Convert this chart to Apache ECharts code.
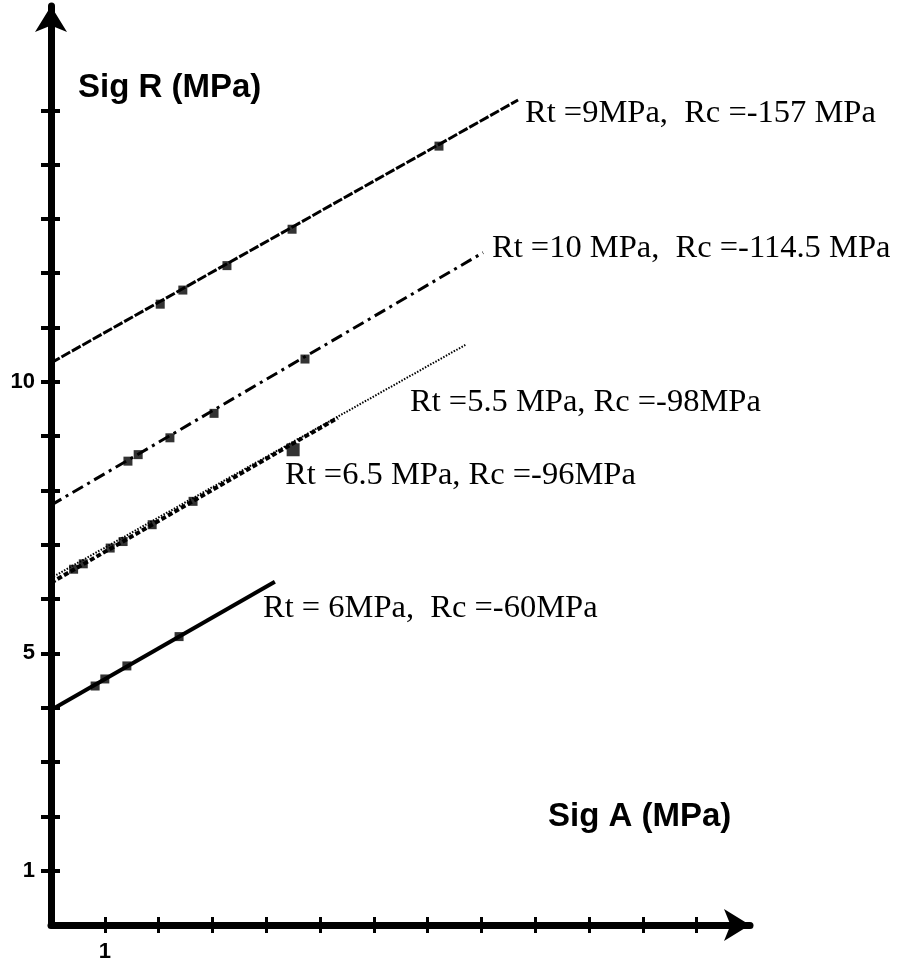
<!DOCTYPE html>
<html>
<head>
<meta charset="utf-8">
<script src="https://cdn.jsdelivr.net/npm/echarts@6/dist/echarts.min.js"></script>
<style>html,body{margin:0;padding:0;background:#fff}#c{width:907px;height:963px}</style>
</head>
<body>
<div id="c"></div>
<script>
// ---- data (MPa) ----
const xTicks = [1,2,3,4,5,6,7,8,9,10,11,12];
const yTicks = [1,2,3,4,5,6,7,8,9,10,11,12,13,14,15];
const xLabels = [1];
const yLabels = [1,5,10];

const line9 = [[0,10.35],[8.68,15.19]];          // Rt=9, Rc=-157
const pts9  = [[2.03,11.43],[2.45,11.69],[3.27,12.14],[4.48,12.81],[7.21,14.34]];

const line10 = [[0,7.73],[8.03,12.38]];          // Rt=10, Rc=-114.5
const pts10  = [[1.43,8.54],[1.62,8.66],[2.21,8.97],[3.03,9.42],[4.72,10.42]];

const line55 = [[0,6.39],[7.70,10.68]];          // Rt=5.5, Rc=-98
const line65 = [[0,6.30],[5.33,9.34]];           // Rt=6.5, Rc=-96
const pts65  = [[0.42,6.55],[0.6,6.65],[1.10,6.94],[1.34,7.06],[1.88,7.37],[2.64,7.80]];
const ptsBig = [[4.50,8.75]];

const line6 = [[0,3.96],[4.16,6.32]];            // Rt=6, Rc=-60
const pts6  = [[0.82,4.40],[1.0,4.53],[1.41,4.77],[2.38,5.31]];

const labels = [
  'Rt =9MPa,  Rc =-157 MPa',
  'Rt =10 MPa,  Rc =-114.5 MPa',
  'Rt =5.5 MPa, Rc =-98MPa',
  'Rt =6.5 MPa, Rc =-96MPa',
  'Rt = 6MPa,  Rc =-60MPa'
];
const xName = 'Sig A (MPa)';
const yName = 'Sig R (MPa)';

// ---- chart ----
const chart = echarts.init(document.getElementById('c'), null, {renderer:'canvas'});
const serif = "32.5px 'Liberation Serif', 'Times New Roman', serif";
const boldSans = "bold 33px 'Liberation Sans', Arial, sans-serif";

function lineSeries(d, type, w){
  return {type:'line', data:d, symbol:'none', silent:true, z:2,
    lineStyle:{color:'#000', width:w, type:type, cap:'butt'}};
}
function ptSeries(d, size){
  return {type:'scatter', data:d, symbol:'rect', symbolSize:size, silent:true, z:3,
    itemStyle:{color:'#000'}};
}

const baseAxis = { min:0, splitLine:{show:false} };
const XMAX = 12.99, YMAX = 16.92;

chart.setOption({
  animation:false,
  grid:{left:51, top:6, width:699, height:919, outerBoundsMode:'none'},
  xAxis:[
    Object.assign({}, baseAxis, {type:'value', max:XMAX, position:'bottom',
      axisLine:{show:true, onZero:false, symbol:['none','arrow'], symbolSize:[24,26],
        lineStyle:{color:'#000', width:7}},
      axisTick:{show:true, inside:false, length:8, customValues:xTicks, lineStyle:{color:'#000', width:3}},
      axisLabel:{show:true, customValues:xLabels, margin:16, color:'#000',
        fontFamily:"'Liberation Sans', Arial, sans-serif", fontWeight:'bold', fontSize:22}
    }),
    Object.assign({}, baseAxis, {type:'value', max:XMAX, position:'bottom',
      axisLine:{show:false},
      axisTick:{show:true, inside:true, length:8, customValues:xTicks, lineStyle:{color:'#000', width:3}},
      axisLabel:{show:false}
    })
  ],
  yAxis:[
    Object.assign({}, baseAxis, {type:'value', max:YMAX, position:'left',
      axisLine:{show:true, onZero:false, symbol:['none','arrow'], symbolSize:[24,26],
        lineStyle:{color:'#000', width:7}},
      axisTick:{show:true, inside:false, length:10, customValues:yTicks, lineStyle:{color:'#000', width:4}},
      axisLabel:{show:true, customValues:yLabels, margin:16, color:'#000',
        fontFamily:"'Liberation Sans', Arial, sans-serif", fontWeight:'bold', fontSize:22}
    }),
    Object.assign({}, baseAxis, {type:'value', max:YMAX, position:'left', offset:0,
      axisLine:{show:false},
      axisTick:{show:true, inside:true, length:9, customValues:yTicks, lineStyle:{color:'#000', width:4}},
      axisLabel:{show:false}
    })
  ],
  series:[
    lineSeries(line9, [10,2], 3),
    ptSeries(pts9, 9),
    lineSeries(line10, [12,5,3,5], 3),
    ptSeries(pts10, 9),
    lineSeries(line55, [1.5,1.5], 2),
    lineSeries(line65, [5,2.5], 4),
    ptSeries(pts65, 9),
    ptSeries(ptsBig, 13),
    lineSeries(line6, 'solid', 4),
    ptSeries(pts6, 9)
  ],
  graphic:[
    {type:'text', x:525, y:113, style:{text:labels[0], font:serif, fill:'#000', verticalAlign:'middle'}},
    {type:'text', x:492, y:248, style:{text:labels[1], font:serif, fill:'#000', verticalAlign:'middle'}},
    {type:'text', x:410, y:402, style:{text:labels[2], font:serif, fill:'#000', verticalAlign:'middle'}},
    {type:'text', x:285, y:475, style:{text:labels[3], font:serif, fill:'#000', verticalAlign:'middle'}},
    {type:'text', x:263, y:608, style:{text:labels[4], font:serif, fill:'#000', verticalAlign:'middle'}},
    {type:'text', x:78, y:88, style:{text:yName, font:boldSans, fill:'#000', verticalAlign:'middle'}},
    {type:'text', x:548, y:817, style:{text:xName, font:boldSans, fill:'#000', verticalAlign:'middle'}}
  ]
});
</script>
</body>
</html>
